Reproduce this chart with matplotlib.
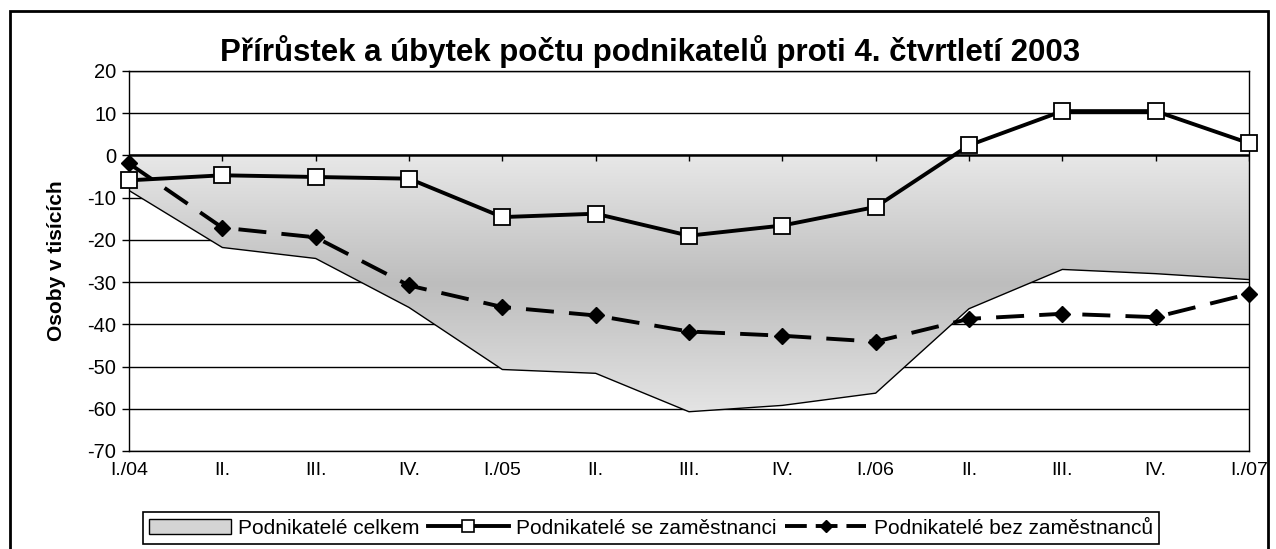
import numpy as np
import matplotlib
matplotlib.use("Agg")
import matplotlib.pyplot as plt
from matplotlib.colors import LinearSegmentedColormap
from matplotlib.patches import Rectangle, Patch
from matplotlib.lines import Line2D

plt.rcParams["font.family"] = ["Liberation Sans", "DejaVu Sans"]
plt.rcParams["axes.unicode_minus"] = False

# -- Data (thousands of persons, change vs Q4 2003) -------------------------
categories = ["I./04", "II.", "III.", "IV.", "I./05", "II.", "III.", "IV.",
              "I./06", "II.", "III.", "IV.", "I./07"]
celkem = [-8.3, -21.8, -24.4, -36, -50.7, -51.6, -60.7, -59.2, -56.3,
          -36.3, -27, -28, -29.4]
se_zam = [-5.9, -4.7, -5.1, -5.5, -14.6, -13.8, -19, -16.6, -12.2,
          2.4, 10.5, 10.5, 2.9]
bez_zam = [-1.9, -17.1, -19.4, -30.8, -35.9, -37.9, -41.7, -42.7, -44.1,
           -38.7, -37.5, -38.3, -32.8]

labels = ["Podnikatelé celkem", "Podnikatelé se zaměstnanci",
          "Podnikatelé bez zaměstnanců"]
title = "Přírůstek a úbytek počtu podnikatelů proti 4. čtvrtletí 2003"

# -- Figure -----------------------------------------------------------------
W, H = 1276, 549
fig = plt.figure(figsize=(W / 100, H / 100), dpi=100)
ax = fig.add_axes([129 / W, 1 - 451 / H, 1120 / W, 380 / H])

x = np.arange(len(categories))

# area with vertical grey gradient
poly = ax.fill_between(x, 0, celkem, facecolor="none", edgecolor="none")
cmap = LinearSegmentedColormap.from_list("g", ["#e8e8e8", "#bdbdbd", "#e4e4e4"])
grad = np.linspace(0, 1, 256).reshape(-1, 1)
im = ax.imshow(grad, cmap=cmap, aspect="auto", origin="upper",
               extent=[x[0], x[-1], min(celkem), 0], zorder=1)
im.set_clip_path(poly.get_paths()[0], transform=ax.transData)
ax.plot(x, celkem, color="black", lw=1.0, zorder=2)

# zero axis with category ticks
ax.axhline(0, color="black", lw=1.8, zorder=3)
ax.vlines(x, -1.3, 0, color="black", lw=1.0, zorder=3)

ax.plot(x, se_zam, color="black", lw=2.8, marker="s", ms=12,
        mfc="white", mec="black", mew=1.3, zorder=5, clip_on=False)
l2, = ax.plot(x, bez_zam, color="black", lw=2.8, marker="D", ms=8,
              mfc="black", mec="black", zorder=4, clip_on=False)
l2.set_dashes([7.2, 3.9])

ax.set_xlim(x[0], x[-1])
ax.set_ylim(-70, 20)
ax.set_yticks(np.arange(-70, 21, 10))
ax.set_xticks(x)
ax.set_xticklabels(categories)
ax.tick_params(axis="x", length=0, pad=8, labelsize=14)
ax.tick_params(axis="y", length=5, width=1, pad=4, labelsize=14.5)
ax.set_axisbelow(True)
ax.grid(axis="y", color="black", lw=1.0)
for s in ax.spines.values():
    s.set_color("black")
    s.set_linewidth(1.0)

ax.set_ylabel("Osoby v tisících", fontsize=15, fontweight="bold")
ax.yaxis.set_label_coords((66 - 129) / 1120, 0.5)

fig.text(650 / W, 1 - 52 / H, title, ha="center", va="center",
         fontsize=22.5, fontweight="bold")

# legend
handles = [
    Patch(facecolor="#d4d4d4", edgecolor="black", lw=1.0),
    Line2D([], [], color="black", lw=2.8, marker="s", ms=9,
           mfc="white", mec="black", mew=1.2),
    Line2D([], [], color="black", lw=2.8, marker="D", ms=6,
           mfc="black", dashes=[5.6, 2.3]),
]
leg = fig.legend(handles, labels, loc="center", ncol=3,
                 bbox_to_anchor=(651 / W, 1 - 528 / H), fontsize=15,
                 frameon=True, fancybox=False, edgecolor="black",
                 handlelength=3.9, handletextpad=0.35, columnspacing=0.4,
                 borderpad=0.3, numpoints=1)
leg.get_frame().set_linewidth(1.2)
leg.get_frame().set_alpha(1)

# outer chart border
fig.patches.append(Rectangle((10 / W, -0.02), 1258 / W, 1 - 11 / H + 0.02,
                             transform=fig.transFigure, fill=False,
                             edgecolor="black", lw=2.0))

fig.savefig("out.png", dpi=100)
